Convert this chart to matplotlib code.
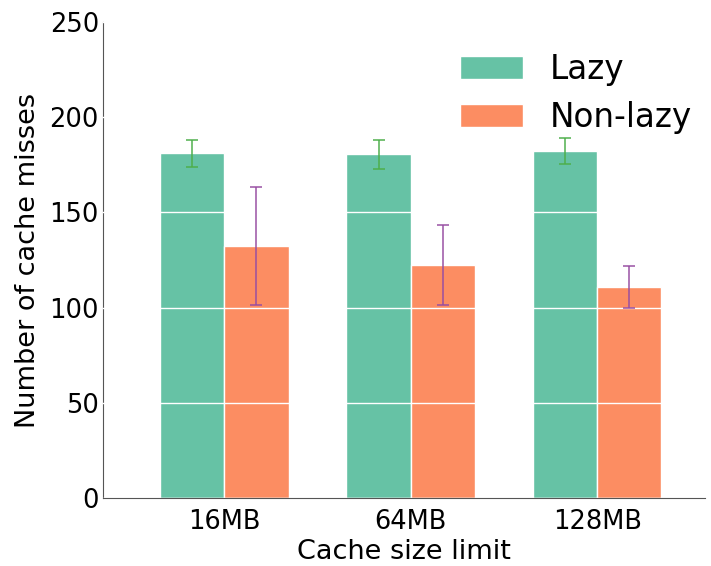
import numpy as np
import matplotlib.pyplot as plt

sizes = ["16MB", "64MB", "128MB"]
lazy = [181.2, 180.5, 182.3]
lazy_err = [7.1, 7.6, 6.7]
nonlazy = [132.3, 122.4, 111.0]
nonlazy_err = [30.9, 20.8, 11.0]

fig = plt.figure(figsize=(7.11, 5.66), dpi=100)
ax = fig.add_axes([0.145, 0.12, 0.847, 0.841])

ind = np.arange(len(sizes))
w = 0.345
ax.bar(ind - w / 2, lazy, w, color="#66c2a5", edgecolor="white", linewidth=1,
       label="Lazy", zorder=2)
ax.bar(ind + w / 2, nonlazy, w, color="#fc8d62", edgecolor="white", linewidth=1,
       label="Non-lazy", zorder=2)
ax.errorbar(ind - w / 2, lazy, yerr=lazy_err, fmt="none", ecolor="#4daf4a",
            elinewidth=1.2, capsize=4, capthick=1.2, alpha=0.9, zorder=3)
ax.errorbar(ind + w / 2, nonlazy, yerr=nonlazy_err, fmt="none", ecolor="#984ea3",
            elinewidth=1.2, capsize=4, capthick=1.2, alpha=0.9, zorder=3)

ax.set_ylim(0, 250)
ax.set_xlim(-0.65, 2.58)
ax.set_xticks(ind)
ax.set_xticklabels(sizes)
ax.set_yticks([0, 50, 100, 150, 200, 250])
ax.tick_params(axis="y", length=0, labelsize=18.5, pad=3)
ax.tick_params(axis="x", length=0, labelsize=18.5, pad=8)
ax.yaxis.grid(True, color="white", linewidth=1.0, zorder=4)
ax.set_axisbelow(False)
for s in ["top", "right"]:
    ax.spines[s].set_visible(False)
for s in ["left", "bottom"]:
    ax.spines[s].set_color("#555555")

ax.set_xlabel("Cache size limit", fontsize=19.5, labelpad=3)
ax.set_ylabel("Number of cache misses", fontsize=19.5, labelpad=6)
ax.legend(loc="upper right", frameon=False, fontsize=23.5, handlelength=1.95,
          handleheight=0.7, labelspacing=0.45, handletextpad=0.8,
          borderaxespad=0.3, bbox_to_anchor=(1.015, 0.983))

fig.savefig("out.png", dpi=100)
